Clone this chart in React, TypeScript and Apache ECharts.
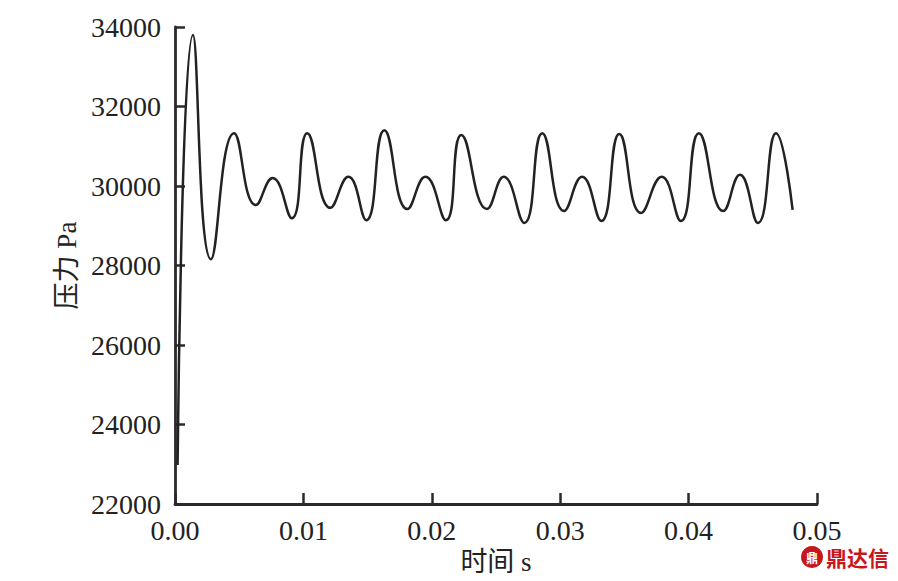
import React, { useEffect, useRef } from "react";
import * as echarts from "echarts";

const times = [0.0002, 0.0014, 0.0028, 0.0046, 0.0063, 0.0076, 0.0091, 0.0103, 0.0121, 0.0135, 0.0149, 0.0163, 0.0181, 0.0195, 0.0211, 0.0223, 0.0243, 0.0256, 0.0272, 0.0286, 0.0303, 0.0317, 0.0332, 0.0346, 0.0363, 0.0379, 0.0394, 0.0408, 0.0427, 0.044, 0.0454, 0.0468, 0.0481];
const pressures = [22980, 33800, 28160, 31330, 29520, 30200, 29190, 31330, 29450, 30230, 29140, 31400, 29420, 30230, 29140, 31280, 29420, 30230, 29070, 31330, 29370, 30230, 29120, 31310, 29320, 30230, 29120, 31330, 29370, 30280, 29070, 31330, 29400];
const xTicks = ["0.00", "0.01", "0.02", "0.03", "0.04", "0.05"];
const yTicks = ["22000", "24000", "26000", "28000", "30000", "32000", "34000"];
const yAxisName = "压力 Pa";
const xAxisName = "时间 s";
const watermark = "鼎达信";

const FONT = "'Liberation Serif', 'Times New Roman', 'Noto Sans CJK SC', serif";

export default function App() {
  const ref = useRef<HTMLDivElement>(null);
  useEffect(() => {
    if (!ref.current) return;
    const chart = echarts.init(ref.current, undefined, { renderer: "svg" });
    chart.setOption({
      animation: false,
      backgroundColor: "#fff",
      grid: { left: 175, right: 81, top: 27, bottom: 77, containLabel: false },
      xAxis: {
        type: "value",
        min: 0,
        max: 0.05,
        interval: 0.01,
        name: xAxisName,
        nameLocation: "middle",
        nameGap: 44,
        nameTextStyle: { fontFamily: FONT, fontSize: 27, color: "#222" },
        axisLine: { show: true, lineStyle: { color: "#2a2a2a", width: 2.8 } },
        axisTick: { show: true, inside: true, length: 11, lineStyle: { color: "#2a2a2a", width: 2.5 } },
        axisLabel: {
          fontFamily: FONT,
          fontSize: 28,
          color: "#222",
          margin: 12,
          formatter: (v: number) => xTicks[Math.round(v / 0.01)] ?? "",
        },
        splitLine: { show: false },
      },
      yAxis: {
        type: "value",
        min: 22000,
        max: 34000,
        interval: 2000,
        name: yAxisName,
        nameLocation: "middle",
        nameGap: 92,
        nameRotate: 90,
        nameTextStyle: { fontFamily: FONT, fontSize: 27, color: "#222" },
        axisLine: { show: true, lineStyle: { color: "#2a2a2a", width: 2.8 } },
        axisTick: { show: true, inside: true, length: 10, lineStyle: { color: "#2a2a2a", width: 2.5 } },
        axisLabel: {
          fontFamily: FONT,
          fontSize: 28,
          color: "#222",
          margin: 14,
          formatter: (v: number) => yTicks[Math.round((v - 22000) / 2000)] ?? "",
        },
        splitLine: { show: false },
      },
      series: [
        {
          type: "line",
          data: times.map((t, i) => [t, pressures[i]]),
          smooth: 0.5,
          symbol: "none",
          lineStyle: { color: "#222", width: 2.5 },
        },
      ],
      graphic: [
        {
          type: "circle",
          shape: { cx: 812, cy: 557, r: 11 },
          style: { fill: "#c8161d" },
        },
        {
          type: "text",
          x: 812,
          y: 557,
          style: {
            text: "鼎",
            fill: "#fff",
            font: "bold 12px 'Noto Sans CJK SC'",
            align: "center",
            verticalAlign: "middle",
          },
        },
        {
          type: "text",
          x: 826,
          y: 557,
          style: {
            text: watermark,
            fill: "#c8161d",
            font: "bold 21px 'Noto Sans CJK SC'",
            align: "left",
            verticalAlign: "middle",
          },
        },
      ],
    });
    return () => chart.dispose();
  }, []);
  return <div ref={ref} style={{ width: 898, height: 581, position: "absolute", left: 0, top: 0 }} />;
}
